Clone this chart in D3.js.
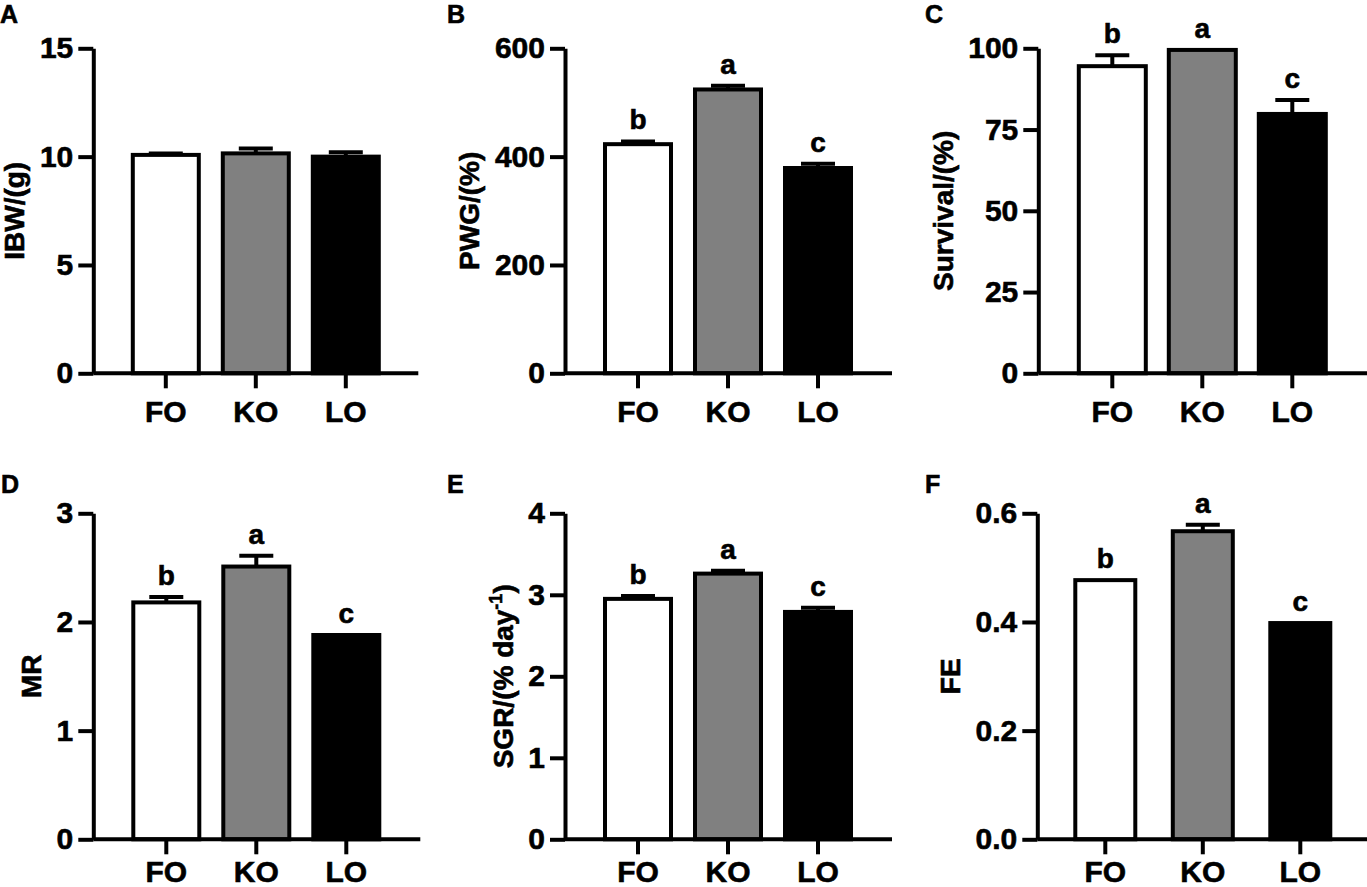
<!DOCTYPE html>
<html>
<head>
<meta charset="utf-8">
<script src="https://cdn.jsdelivr.net/npm/d3@7"></script>
<style>
    body { margin: 0; background: #fff; }
    svg text { font-family: "Liberation Sans", Arial, sans-serif; font-weight: bold; fill: #000; stroke: #000; stroke-width: 0.6px; }
</style>
</head>
<body>
<svg id="chart" width="1367" height="887"></svg>
<script>
// groups and bar fills
const groups = ["FO", "KO", "LO"];
const barFills = ["#ffffff", "#808080", "#000000"];
const sigLetters = ["b", "a", "c"];

// values (mean, upper error)
const ibwMean = [10.08, 10.15, 10.0];
const ibwSE = [0.07, 0.22, 0.2];
const pwgMean = [423, 524, 379];
const pwgSE = [5, 7, 8];
const survivalMean = [94.5, 99.5, 79.8];
const survivalSE = [3.4, 0, 4.3];
const mrMean = [2.18, 2.51, 1.88];
const mrSE = [0.05, 0.1, 0];
const sgrMean = [2.95, 3.26, 2.79];
const sgrSE = [0.035, 0.035, 0.05];
const feMean = [0.477, 0.567, 0.398];
const feSE = [0, 0.012, 0];

// y tick values
const ibwTicks = [0, 5, 10, 15];
const pwgTicks = [0, 200, 400, 600];
const survivalTicks = [0, 25, 50, 75, 100];
const mrTicks = [0, 1, 2, 3];
const sgrTicks = [0, 1, 2, 3, 4];
const feTicks = [0, 0.2, 0.4, 0.6];

const panels = [
    { label: "A", title: "IBW/(g)", mean: ibwMean, se: ibwSE, ticks: ibwTicks, fmt: d3.format("d"), letters: null },
    { label: "B", title: "PWG/(%)", mean: pwgMean, se: pwgSE, ticks: pwgTicks, fmt: d3.format("d"), letters: sigLetters },
    { label: "C", title: "Survival/(%)", mean: survivalMean, se: survivalSE, ticks: survivalTicks, fmt: d3.format("d"), letters: sigLetters },
    { label: "D", title: "MR", mean: mrMean, se: mrSE, ticks: mrTicks, fmt: d3.format("d"), letters: sigLetters },
    { label: "E", title: "SGR", mean: sgrMean, se: sgrSE, ticks: sgrTicks, fmt: d3.format("d"), letters: sigLetters },
    { label: "F", title: "FE", mean: feMean, se: feSE, ticks: feTicks, fmt: d3.format(".1f"), letters: sigLetters }
];

// layout of each panel (pixels)
const layout = [
    { ax: 93.3, top: 48.3, bottom: 373.3, len: 325, first: 72.5, step: 90, bar: 70, lx: 0, ly: 23, pad: 12 },
    { ax: 565, top: 48.3, bottom: 373.3, len: 327, first: 73, step: 90, bar: 70, lx: 447, ly: 23, pad: 12 },
    { ax: 1038.3, top: 48.3, bottom: 373.3, len: 332, first: 74, step: 90, bar: 71, lx: 925, ly: 23, pad: 12 },
    { ax: 93.3, top: 513.3, bottom: 839.3, len: 327, first: 73, step: 90, bar: 70, lx: 1, ly: 493, pad: 6 },
    { ax: 565, top: 513.3, bottom: 839.3, len: 327, first: 73, step: 90, bar: 70, lx: 447, ly: 493, pad: 6 },
    { ax: 1037.3, top: 513.3, bottom: 839.3, len: 360, first: 68, step: 97.5, bar: 64, lx: 925, ly: 493, pad: 6 }
];

const lineW = 4;
const svg = d3.select("#chart");

panels.forEach((p, i) => {
    const L = layout[i];
    const g = svg.append("g").attr("class", "panel");

    const y = d3.scaleLinear()
        .domain([0, d3.max(p.ticks)])
        .range([L.bottom, L.top]);

    const r0 = L.ax + L.first - L.step / 2;
    const inner = 1 - (L.bar - lineW) / L.step;
    const x = d3.scaleBand()
        .domain(groups)
        .range([r0, r0 + L.step * groups.length])
        .paddingInner(inner)
        .paddingOuter(inner / 2);

    const rows = groups.map((k, j) => ({ k: k, m: p.mean[j], e: p.se[j], fill: barFills[j], letter: p.letters ? p.letters[j] : null }));
    const cx = d => x(d.k) + x.bandwidth() / 2;

    // error bars (upper only)
    const eb = g.selectAll(".err").data(rows.filter(d => d.e > 0)).enter().append("g").attr("class", "err");
    eb.append("line")
        .attr("x1", cx).attr("x2", cx)
        .attr("y1", d => y(d.m)).attr("y2", d => y(d.m + d.e))
        .attr("stroke", "#000").attr("stroke-width", lineW);
    eb.append("line")
        .attr("x1", d => cx(d) - 17).attr("x2", d => cx(d) + 17)
        .attr("y1", d => y(d.m + d.e)).attr("y2", d => y(d.m + d.e))
        .attr("stroke", "#000").attr("stroke-width", lineW);

    // bars
    g.selectAll(".bar").data(rows).enter().append("rect")
        .attr("class", "bar")
        .attr("x", d => x(d.k))
        .attr("width", x.bandwidth())
        .attr("y", d => y(d.m))
        .attr("height", d => y(0) - y(d.m))
        .attr("fill", d => d.fill)
        .attr("stroke", "#000")
        .attr("stroke-width", lineW);

    // significance letters
    if (p.letters) {
        g.selectAll(".sig").data(rows).enter().append("text")
            .attr("class", "sig")
            .attr("x", cx)
            .attr("y", d => y(d.m + d.e) - 12)
            .attr("text-anchor", "middle")
            .style("font-size", "28px")
            .text(d => d.letter);
    }

    // y axis
    const yAxis = g.append("g")
        .attr("transform", `translate(${L.ax},0)`)
        .call(d3.axisLeft(y).tickValues(p.ticks).tickFormat(p.fmt).tickSize(15).tickSizeOuter(0).tickPadding(5));
    yAxis.selectAll("path, line").attr("stroke", "#000").attr("stroke-width", lineW);
    yAxis.selectAll("text").style("font-size", "30px");

    // x axis: baseline drawn separately, ticks and labels from d3.axisBottom
    g.append("line")
        .attr("x1", L.ax).attr("x2", L.ax + L.len)
        .attr("y1", y(0)).attr("y2", y(0))
        .attr("stroke", "#000").attr("stroke-width", lineW);
    const xAxis = g.append("g")
        .attr("transform", `translate(0,${y(0)})`)
        .call(d3.axisBottom(x).tickSize(15).tickPadding(L.pad));
    xAxis.select(".domain").remove();
    xAxis.selectAll("line").attr("stroke", "#000").attr("stroke-width", lineW);
    xAxis.selectAll("text").style("font-size", "30px");

    // y title placed left of the tick labels
    const bb = yAxis.node().getBBox();
    const tx = L.ax + bb.x - 15.5;
    const ty = (L.top + L.bottom) / 2;
    const title = g.append("text")
        .attr("transform", `translate(${tx},${ty}) rotate(-90)`)
        .attr("text-anchor", "middle")
        .style("font-size", "28px");
    if (p.label === "E") {
        title.append("tspan").text("SGR/(% day");
        title.append("tspan").attr("dy", -11).style("font-size", "18px").text("-1");
        title.append("tspan").attr("dy", 11).text(")");
    } else {
        title.text(p.title);
    }

    // panel letter
    svg.append("text")
        .attr("x", L.lx).attr("y", L.ly)
        .style("font-size", "25px")
        .text(p.label);
});
</script>
</body>
</html>
